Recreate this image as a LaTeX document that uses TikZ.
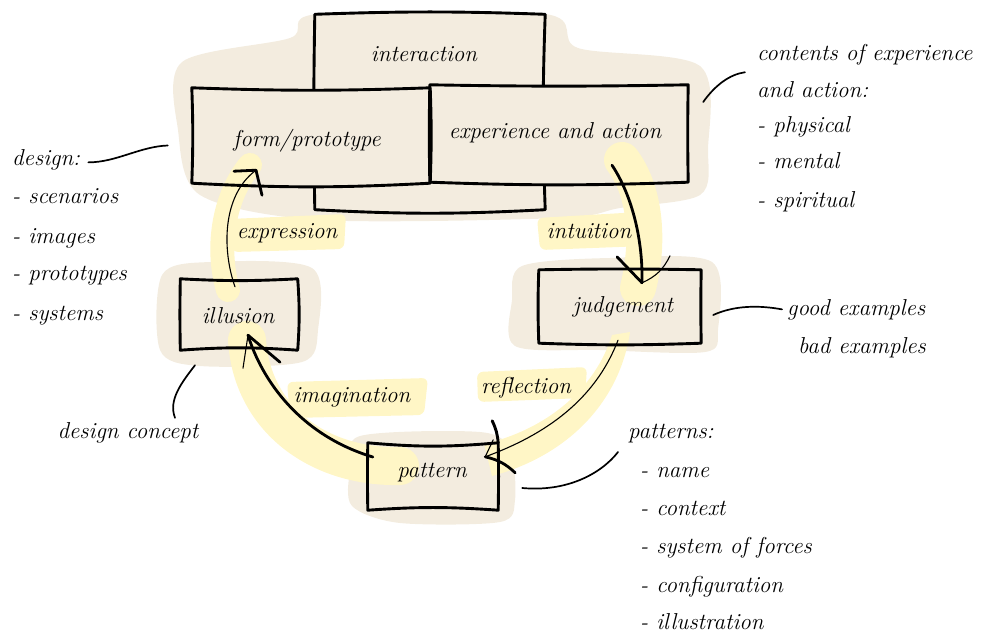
\documentclass[tikz,border=0pt]{standalone}
\usetikzlibrary{calc}
\definecolor{beige}{HTML}{F3ECDF}
\definecolor{hilite}{HTML}{FFF6C6}
\pgfdeclarelayer{blobs}
\pgfdeclarelayer{fills}
\pgfdeclarelayer{band}
\pgfsetlayers{blobs,fills,band,main}
\newcommand{\skfill}[5]{\fill[beige] (#1.north west) to[bend left=#2] (#1.north east) to[bend left=#3] (#1.south east) to[bend left=#4] (#1.south west) to[bend left=#5] cycle;}
\newcommand{\skdraw}[5]{\draw[boxline] (#1.north west) to[bend left=#2] (#1.north east) to[bend left=#3] (#1.south east) to[bend left=#4] (#1.south west) to[bend left=#5] cycle;}
\begin{document}
\begin{tikzpicture}[x=1pt,y=-1pt,
  boxline/.style={line width=2.9pt,line join=round,line cap=round},
  skbox/.style={rectangle,inner sep=0pt,draw=none},
  txt/.style={font=\fontsize{23}{27}\selectfont\itshape,inner sep=0pt,anchor=base},
  ltxt/.style={txt,anchor=base west},
  thickarrow/.style={line width=2.8pt,line cap=round},
  thinarrow/.style={line width=1.1pt,line cap=round},
  barbthick/.style={line width=2.8pt,line cap=round},
  barbthin/.style={line width=1.1pt,line cap=round},
  note/.style={line width=1.7pt,line cap=round},
  hl/.style={fill=hilite,rounded corners=6pt},
  band/.style={draw=hilite,line cap=round}]
\useasboundingbox (0,0) rectangle (982,637);

% ---------- box shapes ----------
\node[skbox,minimum width=230,minimum height=195] (inter) at (430,112) {};
\node[skbox,minimum width=238,minimum height=95] (form) at (311,135.5) {};
\node[skbox,minimum width=258,minimum height=97] (exp) at (559,133.5) {};
\node[skbox,minimum width=117,minimum height=71] (illusion) at (239,314.5) {};
\node[skbox,minimum width=162,minimum height=73] (judge) at (620,306.5) {};
\node[skbox,minimum width=130,minimum height=67] (pattern) at (433,476.5) {};

% ---------- beige blobs ----------
\begin{pgfonlayer}{blobs}
\fill[beige] plot[smooth cycle] coordinates {(182,62) (290,38) (318,14) (545,14) (578,48) (700,66) (708,150) (700,195) (620,208) (560,218) (320,220) (200,195) (178,130)};
\fill[beige] plot[smooth cycle] coordinates {(162,275) (210,262) (312,268) (318,330) (302,362) (200,366) (160,350)};
\fill[beige] plot[smooth cycle] coordinates {(522,266) (610,258) (712,262) (718,330) (705,352) (600,350) (515,346) (512,300)};
\fill[beige] plot[smooth cycle] coordinates {(360,436) (480,432) (510,450) (515,500) (500,522) (400,523) (352,506) (350,470)};
\end{pgfonlayer}

% ---------- box fills ----------
\begin{pgfonlayer}{fills}
\skfill{inter}{2}{-2}{3}{1}
\skdraw{inter}{2}{-2}{3}{1}
\skfill{form}{-2}{2}{3}{-2}
\skfill{exp}{-1}{-1}{2}{1}
\skfill{illusion}{-3}{4}{-4}{1}
\skfill{judge}{1}{-1}{2}{2}
\skfill{pattern}{-5}{1}{-4}{1}
\end{pgfonlayer}

% ---------- yellow band and label highlights ----------
\begin{pgfonlayer}{band}
\draw[band,line width=24pt] (250,165) .. controls (225,195) and (215,245) .. (228,290);
\draw[band,line width=38pt] (247,340) .. controls (252,420) and (320,468) .. (400,466);
\fill[hilite] (630,332) .. controls (620,400) and (570,455) .. (492,476) -- (484,444) .. controls (545,430) and (595,390) .. (612,335) -- cycle;
\draw[band,line width=36pt] (622,160) .. controls (645,190) and (650,240) .. (638,288);
\fill[hl] (229,219) -- (346,214) -- (344,249) -- (232,252) -- cycle;
\fill[hl] (537,218) -- (640,212) -- (645,246) -- (540,250) -- cycle;
\fill[hl] (287,382) -- (428,378) -- (424,415) -- (290,418) -- cycle;
\fill[hl] (477,372) -- (587,367) -- (585,398) -- (478,402) -- cycle;
\end{pgfonlayer}

% ---------- box outlines ----------
\skdraw{form}{-2}{2}{3}{-2}
\skdraw{exp}{-1}{-1}{2}{1}
\skdraw{illusion}{-3}{4}{-4}{1}
\skdraw{judge}{1}{-1}{2}{2}
\skdraw{pattern}{-5}{1}{-4}{1}
\draw[boxline] ([shift={(-6,-22)}]pattern.north east) to[bend left=10] (pattern.north east);

% ---------- box texts ----------
\node[txt] (intertxt) at (424,61) {interaction};
\node[txt] (formtxt) at (307,146) {form/prototype};
\node[txt] (exptxt) at (555,138) {experience and action};
\node[txt] (illtxt) at (238,323) {illusion};
\node[txt] (judgetxt) at (623,312) {judgement};
\node[txt] (pattxt) at (432,477) {pattern};

% ---------- cycle labels ----------
\node[txt] (lexpr) at (287,238) {expression};
\node[txt] (lintu) at (589,238) {intuition};
\node[txt] (limag) at (352,402) {imagination};
\node[txt] (lrefl) at (526,393) {reflection};

% ---------- cycle arrows ----------
\coordinate (tipexpr) at ([shift={(-55,-13)}]form.south);
\draw[thinarrow] ([shift={(-4,8)}]illusion.north) .. controls +(-13,-37) and +(-34,25) .. (tipexpr);
\draw[barbthick] (tipexpr) -- +(-22,1);
\draw[barbthick] (tipexpr) -- +(6,25);

\coordinate (tipintu) at ([shift={(22,13)}]judge.north);
\draw[thickarrow] ([shift={(53,-17)}]exp.south) .. controls +(20,30) and +(1,-43) .. (tipintu);
\draw[barbthick] (tipintu) -- +(-25,-26);
\draw[barbthin] (tipintu) to[bend right=20] +(28,-27);

\coordinate (tiprefl) at ([shift={(-13,14)}]pattern.north east);
\draw[thinarrow] ([shift={(-2,-3)}]judge.south) .. controls +(-23,60) and +(60,-22) .. (tiprefl);
\draw[barbthin] (tiprefl) -- +(8,-17);
\draw[barbthick] (tiprefl) to[bend left=15] +(30,16);

\coordinate (tipimag) at ([shift={(9,-15)}]illusion.south);
\draw[thickarrow] ([shift={(5,-19.5)}]pattern.west) .. controls +(-73,-22) and +(14,45) .. (tipimag);
\draw[barbthin] (tipimag) -- +(-5,33);
\draw[barbthick] (tipimag) -- +(32,27);

% ---------- annotation texts ----------
\node[ltxt] (design) at (12,165) {design:};
\node[ltxt] (d1) at (12,203) {- scenarios};
\node[ltxt] (d2) at (12,243) {- images};
\node[ltxt] (d3) at (12,280) {- prototypes};
\node[ltxt] (d4) at (12,320) {- systems};

\node[ltxt] (contents) at (757,60) {contents of experience};
\node[ltxt] (c1) at (757,97) {and action:};
\node[ltxt] (c2) at (757,132) {- physical};
\node[ltxt] (c3) at (757,168) {- mental};
\node[ltxt] (c4) at (757,207) {- spiritual};

\node[ltxt] (good) at (787,315) {good examples};
\node[ltxt] (bad) at (798,353) {bad examples};

\node[txt] (dconcept) at (128,438) {design concept};

\node[ltxt] (patterns) at (628,438) {patterns:};
\node[ltxt] (p1) at (640,477) {- name};
\node[ltxt] (p2) at (640,515) {- context};
\node[ltxt] (p3) at (640,553) {- system of forces};
\node[ltxt] (p4) at (640,592) {- configuration};
\node[ltxt] (p5) at (640,629) {- illustration};

% ---------- annotation connectors ----------
\draw[note] ([shift={(8,3)}]design.east) .. controls +(28,0) and +(-28,1) .. ([shift={(-24,10)}]form.west);
\draw[note] ([shift={(15,-31.5)}]exp.east) .. controls +(12,-17) and +(-15,2) .. ([shift={(-12,18)}]contents.west);
\draw[note] ([shift={(-44,15)}]illusion.south) .. controls +(-13,17) and +(-7,-18) .. ([shift={(47,-4)}]dconcept.north);
\draw[note] ([shift={(12,8.5)}]judge.east) .. controls +(22,-10) and +(-22,-4) .. ([shift={(-5,0)}]good.west);
\draw[note] ([shift={(24,11.5)}]pattern.east) .. controls +(43,4) and +(-18,23) .. ([shift={(-10,19)}]patterns.west);
\end{tikzpicture}
\end{document}
